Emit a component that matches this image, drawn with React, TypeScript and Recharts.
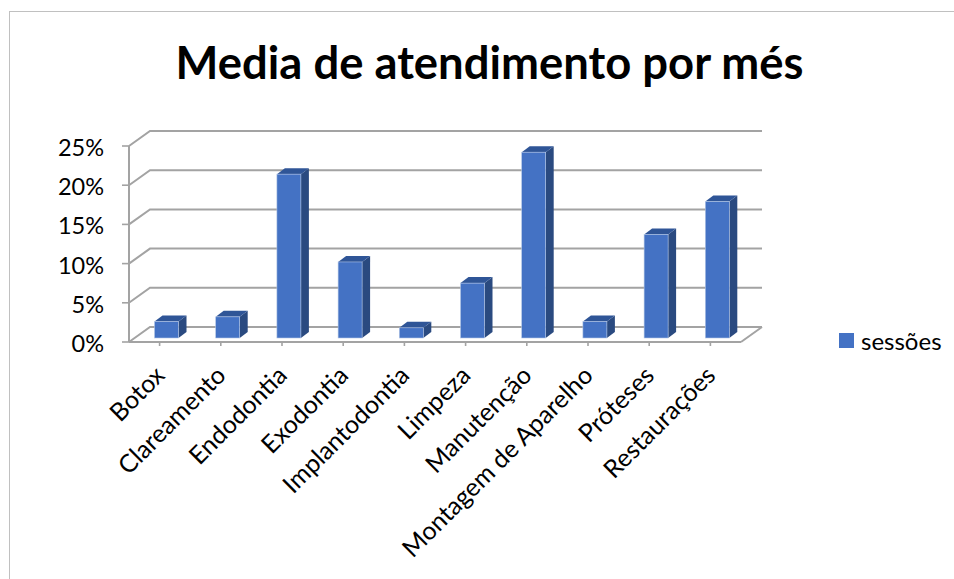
import { BarChart, Bar, XAxis, YAxis, CartesianGrid, Legend } from "recharts"

const categorias = [
  "Botox", "Clareamento", "Endodontia", "Exodontia", "Implantodontia",
  "Limpeza", "Manutenção", "Montagem de Aparelho", "Próteses", "Restaurações",
]
const sessoes = [2.1, 2.7, 20.9, 9.7, 1.3, 7.0, 23.7, 2.1, 13.2, 17.4]
const yTicks = [0, 5, 10, 15, 20, 25]

const data = categorias.map((nome, i) => ({ nome, sessoes: sessoes[i] }))

const FONT = "Lato, sans-serif"
const GRID = "#a3a3a3"

// bar block sits partway into the floor depth
function Bar3D({ x, y, width, height }: any) {
  const fx = x + 6.5
  const fy = y - 4
  const dx = 8
  const dy = 6
  return (
    <g>
      <path d={`M${fx + width} ${fy} l${dx} ${-dy} v${height} l${-dx} ${dy} z`} fill="#2a4a80" />
      <path d={`M${fx} ${fy} l${dx} ${-dy} h${width} l${-dx} ${dy} z`} fill="#2f5597" />
      <rect x={fx} y={fy} width={width} height={height} fill="#4472c4" stroke="#b4c7e7" strokeWidth={0.6} />
    </g>
  )
}

// each gridline runs along the side wall, then along the back wall
function WallLine({ x1, x2, y1 }: any) {
  const isFloor = Math.round(y1) === 342
  return (
    <g fill="none" stroke={GRID} strokeWidth={2}>
      <path d={`M${x1} ${y1} L${x1 + 21} ${y1 - 15} L${x2 + 21} ${y1 - 15}`} />
      {isFloor && <path d={`M${x2} ${y1} L${x2 + 21} ${y1 - 15}`} />}
    </g>
  )
}

function CategoryTick({ x, y, payload }: any) {
  const ax = x + 6.5
  const ay = y + 29
  return (
    <text
      x={ax}
      y={ay}
      transform={`rotate(-45 ${ax} ${ay})`}
      textAnchor="end"
      fontFamily={FONT}
      fontSize={25}
      fill="#000"
    >
      {payload.value}
    </text>
  )
}

function ValueTick({ x, y, payload }: any) {
  return (
    <text x={x} y={y + 10} textAnchor="end" fontFamily={FONT} fontSize={23.5} fill="#000">
      {`${payload.value}%`}
    </text>
  )
}

function LegendBox({ payload }: any) {
  return (
    <div style={{ display: "flex", flexDirection: "column" }}>
      {(payload ?? []).map((item: any) => (
        <div key={item.value} style={{ display: "flex", alignItems: "center", whiteSpace: "nowrap", height: 36 }}>
          <span style={{ width: 15, height: 15, background: item.color, marginRight: 7, flex: "none" }} />
          <span style={{ color: "#000", fontFamily: FONT, fontSize: 24 }}>{item.value}</span>
        </div>
      ))}
    </div>
  )
}

export default function App() {
  return (
    <div style={{ position: "absolute", left: 0, top: 0, width: 954, height: 579, background: "#fff", overflow: "hidden" }}>
      <div
        style={{
          position: "absolute", left: 9, top: 11, width: 945, height: 568,
          borderTop: "1.5px solid #c0c0c0", borderLeft: "1.5px solid #c0c0c0",
        }}
      />
      <div
        style={{
          position: "absolute", left: 0, top: 34, width: 979, textAlign: "center",
          fontFamily: FONT, fontWeight: 700, fontSize: 45.4, color: "#000", lineHeight: "56px",
        }}
      >
        Media de atendimento por més
      </div>
      <BarChart
        width={954}
        height={579}
        data={data}
        margin={{ top: 146, right: 108, bottom: 0, left: 0 }}
        style={{ position: "absolute", left: 0, top: 0 }}
      >
        <CartesianGrid vertical={false} horizontal={(p: any) => <WallLine {...p} />} />
        <XAxis
          dataKey="nome"
          interval={0}
          height={237}
          tick={<CategoryTick />}
          tickSize={4}
          axisLine={{ stroke: GRID, strokeWidth: 2 }}
          tickLine={{ stroke: GRID, strokeWidth: 1.6 }}
        />
        <YAxis
          width={129}
          domain={[0, 25]}
          ticks={yTicks}
          tick={<ValueTick />}
          tickSize={7}
          tickMargin={18}
          axisLine={{ stroke: GRID, strokeWidth: 2 }}
          tickLine={{ stroke: GRID, strokeWidth: 1.6 }}
        />
        <Legend
          layout="vertical"
          align="right"
          verticalAlign="top"
          width={105}
          content={<LegendBox />}
          wrapperStyle={{ left: 839, top: 322 }}
        />
        <Bar dataKey="sessoes" name="sessões" barSize={24} fill="#4472c4" shape={<Bar3D />} isAnimationActive={false} />
      </BarChart>
    </div>
  )
}
